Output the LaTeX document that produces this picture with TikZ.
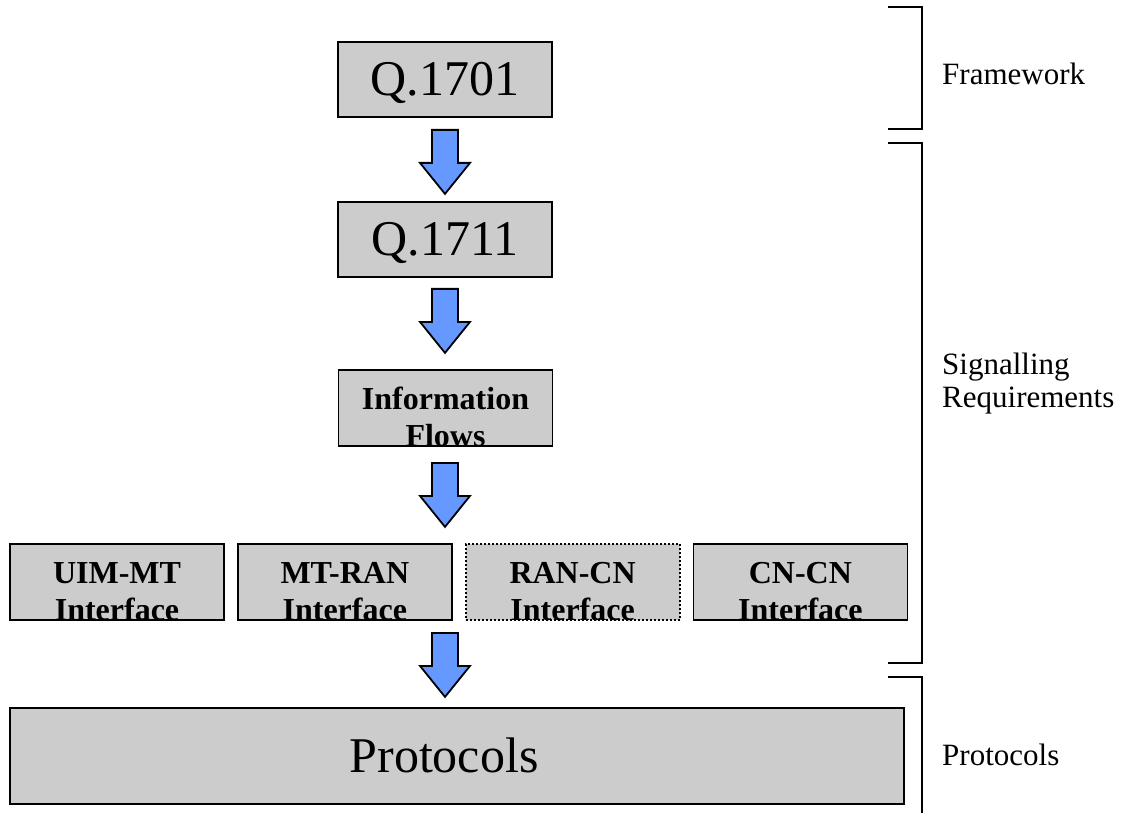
\documentclass[tikz,border=0pt]{standalone}
\usepackage{fontspec}
\setmainfont{Liberation Serif}
\usetikzlibrary{positioning, calc}
\definecolor{boxgray}{HTML}{CCCCCC}
\definecolor{arrowblue}{HTML}{6699FF}

% block arrow pointing down, #1 = middle of its top edge
\newcommand{\downblock}[1]{%
  \draw[blockarrow] #1 ++(-13,0) -- ++(26,0) -- ++(0,33) -- ++(12,0)
    -- ++(-25,31) -- ++(-25,-31) -- ++(12,0) -- cycle;}

\begin{document}
\begin{tikzpicture}[x=1pt, y=-1pt,
    box/.style={draw, line width=1.8pt, fill=boxgray, inner sep=0pt},
    bigbox/.style={box, minimum width=214pt, minimum height=75pt,
      text height=33pt, text depth=0pt, font=\fontsize{50}{60}\selectfont},
    smallbox/.style={box, minimum width=214pt, minimum height=76pt},
    boldlabel/.style={align=center, inner sep=0pt, anchor=south,
      font=\bfseries\fontsize{32}{37}\selectfont},
    sidelabel/.style={align=left, inner sep=0pt, anchor=base west,
      font=\fontsize{31}{33}\selectfont},
    bracket/.style={line width=1.8pt},
    blockarrow/.style={draw, line width=1.8pt, fill=arrowblue, line join=miter}]

  \useasboundingbox (0,0) rectangle (1125,813);

  % centre column
  \node[bigbox] (q1701) at (445,79.5) {Q.1701};
  \node[bigbox] (q1711) at (445,239.5) {Q.1711};
  \node[smallbox] (flows) at (445.5,408) {};
  \node[boldlabel] (flowstext) at (flows.south) {Information\\Flows};

  % interfaces
  \node[smallbox] (uim) at (117,582) {};
  \node[smallbox, right=12pt of uim] (mtran) {};
  \node[smallbox, dash pattern=on 2pt off 2pt, right=12pt of mtran] (rancn) {};
  \node[smallbox, right=12pt of rancn] (cncn) {};
  \node[boldlabel] (uimtext) at (uim.south) {UIM-MT\\Interface};
  \node[boldlabel] (mtrantext) at (mtran.south) {MT-RAN\\Interface};
  \node[boldlabel] (rancntext) at (rancn.south) {RAN-CN\\Interface};
  \node[boldlabel] (cncntext) at (cncn.south) {CN-CN\\Interface};

  % protocols
  \node[box, minimum width=894pt, minimum height=96pt] (protocols) at (457,756) {};
  \node[bigbox, draw=none, fill=none] (prottext) at ($(protocols.center)+(-13,0)$) {Protocols};

  % arrows
  \downblock{($(q1701.south)+(0,12)$)}
  \downblock{($(q1711.south)+(0,11)$)}
  \downblock{($(flows.south)+(-0.5,16)$)}
  \downblock{($(q1701.south |- uim.south)+(0,12)$)}

  % brackets on the right
  \draw[bracket] (888,7) -- (922,7) -- (922,129) -- (888,129);
  \draw[bracket] (888,143) -- (922,143) -- (922,663) -- (888,663);
  \draw[bracket] (888,677) -- (922,677) -- (922,813);

  \node[sidelabel] (framework) at (942,85) {Framework};
  \node[sidelabel] (signalling) at (942,407) {Signalling\\Requirements};
  \node[sidelabel] (protlabel) at (942,765) {Protocols};
\end{tikzpicture}
\end{document}
